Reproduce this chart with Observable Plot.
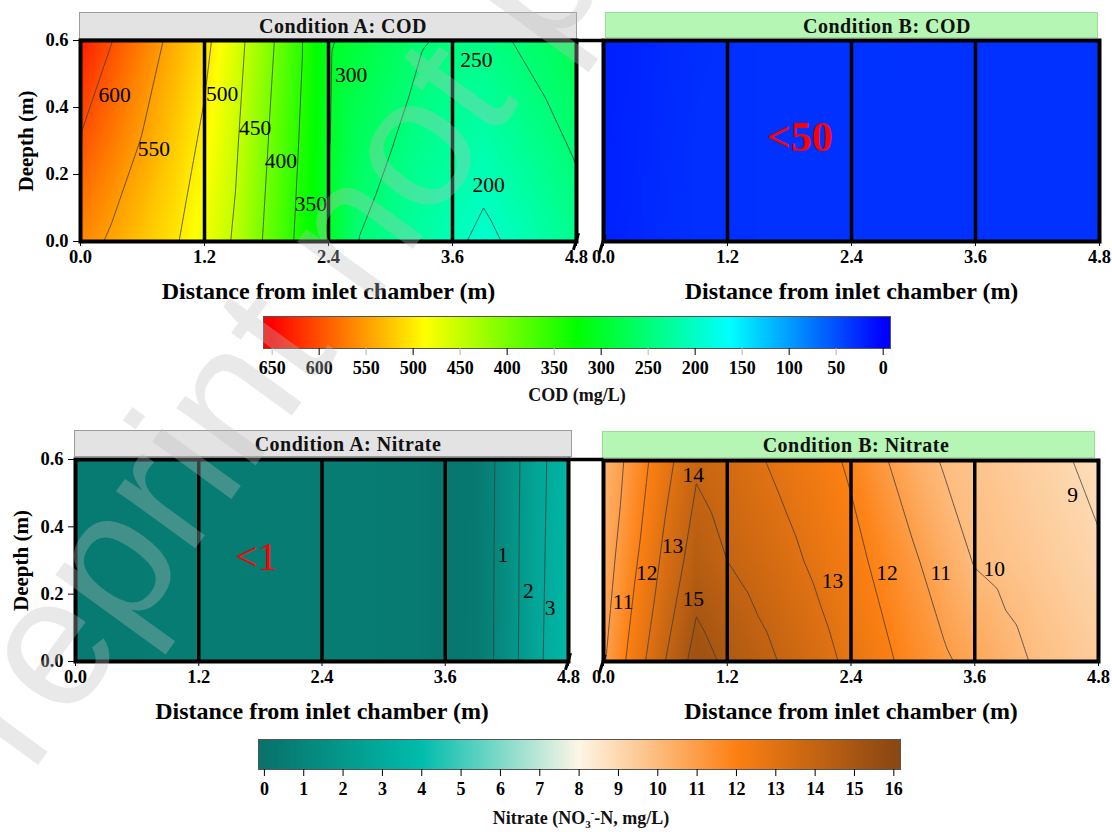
<!DOCTYPE html>
<html>
<head>
<meta charset="utf-8">
<script src="https://cdn.jsdelivr.net/npm/d3@7"></script>
<script src="https://cdn.jsdelivr.net/npm/@observablehq/plot@0.6"></script>
<style>
  body { margin: 0; background: #fff; }
  #fig { position: relative; width: 1112px; height: 832px; overflow: hidden; background: #fff;
         font-family: "Liberation Serif", "Times New Roman", serif; }
  .box { position: absolute; }
  .box svg { max-width: none; }
  .strip { position: absolute; box-sizing: border-box; }
  .strip.a { background: #e3e3e3; border: 1px solid #9c9c9c; }
  .strip.b { background: #b6f6b4; border: 1px solid #9bdc9b; }
  .title { position: absolute; width: 400px; text-align: center; font-weight: bold; font-size: 20px;
           letter-spacing: 0.5px; line-height: 26px; color: #111; }
  .cbtitle { position: absolute; width: 400px; text-align: center; font-weight: bold; font-size: 18px; color: #111; }
  .cbtitle sub { font-size: 11px; vertical-align: -4px; }
  .cbtitle sup { font-size: 11px; vertical-align: 8px; }
  #watermark { position: absolute; left: 0; top: 0; pointer-events: none; }
</style>
</head>
<body>
<div id="fig"></div>
<script>
// Sampling grid (distance from inlet chamber, m) x (depth, m)
const distance = [0, 0.3, 0.6, 0.9, 1.2, 1.5, 1.8, 2.1, 2.4, 2.7, 3.0, 3.3, 3.6, 3.9, 4.2, 4.5, 4.8];
const depth = [0, 0.3, 0.6];

// COD (mg/L), one row per depth
const codA = [
  [565, 545, 525, 505, 477, 445, 393, 344, 300, 249, 235, 221, 207, 192, 206, 220, 235],
  [598, 573, 548, 522, 493, 455, 403, 352, 302, 267, 252, 236, 226, 216, 228, 241, 255],
  [632, 601, 570, 540, 510, 466, 414, 359, 304, 285, 269, 252, 245, 241, 251, 262, 275]
];
const codB = [
  [21, 24, 28, 30, 30, 31, 31, 31, 31, 31, 31, 31, 31, 31, 31, 31, 31],
  [21, 23, 27, 30, 30, 31, 31, 31, 31, 31, 31, 31, 31, 31, 31, 31, 31],
  [21, 22, 26, 29, 30, 31, 31, 31, 32, 32, 31, 31, 31, 31, 31, 31, 31]
];

// Nitrate (NO3--N, mg/L), one row per depth
const nitrateA = [
  [0.4, 0.45, 0.45, 0.5, 0.5, 0.5, 0.5, 0.5, 0.5, 0.5, 0.45, 0.4, 0.2, 0.35, 1.5, 2.85, 3.7],
  [0.4, 0.45, 0.45, 0.5, 0.5, 0.5, 0.5, 0.5, 0.5, 0.5, 0.45, 0.4, 0.2, 0.33, 1.48, 2.8, 3.65],
  [0.4, 0.45, 0.45, 0.5, 0.5, 0.5, 0.5, 0.5, 0.5, 0.5, 0.45, 0.4, 0.2, 0.3, 1.45, 2.75, 3.6]
];
const nitrateB = [
  [10.9, 12.44, 14.0, 15.4, 14.82, 14.32, 13.81, 13.31, 12.78, 12.22, 11.68, 11.14, 10.69, 10.27, 9.91, 9.65, 9.4],
  [10.5, 11.86, 13.27, 14.5, 14.0, 13.61, 13.21, 12.77, 12.29, 11.76, 11.14, 10.5, 9.95, 9.74, 9.52, 9.31, 9.1],
  [10.2, 11.42, 12.67, 13.85, 13.47, 13.09, 12.70, 12.31, 11.86, 11.14, 10.44, 9.92, 9.70, 9.48, 9.26, 9.04, 8.8]
];

// Contour levels drawn as lines
const codLevels = [200, 250, 300, 350, 400, 450, 500, 550, 600];
const nitrateALevels = [1, 2, 3];
const nitrateBLevels = [9, 10, 11, 12, 13, 14, 15];

// Contour labels: [distance, depth, text]
const codALabels = [
  [0.33, 0.436, "600"], [0.71, 0.275, "550"], [1.37, 0.441, "500"], [1.69, 0.338, "450"],
  [1.94, 0.239, "400"], [2.23, 0.112, "350"], [2.62, 0.496, "300"], [3.83, 0.540, "250"],
  [3.95, 0.167, "200"]
];
const nitrateALabels = [[4.16, 0.315, "1"], [4.41, 0.21, "2"], [4.62, 0.158, "3"]];
const nitrateBLabels = [
  [0.19, 0.178, "11"], [0.42, 0.265, "12"], [0.67, 0.343, "13"], [0.87, 0.555, "14"],
  [0.87, 0.185, "15"], [2.22, 0.241, "13"], [2.75, 0.265, "12"], [3.27, 0.263, "11"],
  [3.79, 0.275, "10"], [4.55, 0.498, "9"]
];
// Values below detection shown as text
const codBNote = [[1.9, 0.31, "<50"]];
const nitrateANote = [[1.76, 0.31, "<1"]];

// Axis ticks
const distanceTicks = [0, 1.2, 2.4, 3.6, 4.8];
const depthTicks = [0, 0.2, 0.4, 0.6];
const chamberWalls = [1.2, 2.4, 3.6];
const codBarTicksMajor = [600, 500, 400, 300, 200, 100, 0];
const codBarTicksMinor = [650, 550, 450, 350, 250, 150, 50];
const nitrateBarTicks = [0, 1, 2, 3, 4, 5, 6, 7, 8, 9, 10, 11, 12, 13, 14, 15, 16];

// Colour maps
const codColor = {
  type: "linear", domain: [0, 162.5, 325, 487.5, 650],
  range: ["#0000ff", "#00ffff", "#00ff00", "#ffff00", "#ff0000"], interpolate: "rgb", clamp: true
};
const nitrateColor = {
  type: "linear", domain: [0, 4, 8, 12, 16],
  range: ["#08736b", "#00bdac", "#fdf6e6", "#fd8012", "#8b4812"], interpolate: "rgb", clamp: true
};

const serif = '"Liberation Serif", "Times New Roman", serif';
const fig = document.getElementById("fig");

function gridRows(values) {
  const rows = [];
  depth.forEach((d, j) => distance.forEach((x, i) => rows.push({x, y: d, v: values[j][i]})));
  return rows;
}
const asPoints = (list) => list.map(([x, y, t]) => ({x, y, t}));

function place(node, left, top) {
  const div = document.createElement("div");
  div.className = "box";
  div.style.left = left + "px";
  div.style.top = top + "px";
  div.appendChild(node);
  fig.appendChild(div);
}

function strip(cls, left, top, width, height, text, center) {
  const s = document.createElement("div");
  s.className = "strip " + cls;
  Object.assign(s.style, {left: left + "px", top: top + "px", width: width + "px", height: height + "px"});
  fig.appendChild(s);
  const t = document.createElement("div");
  t.className = "title";
  t.textContent = text;
  Object.assign(t.style, {left: (center - 200) + "px", top: (top + 0.5) + "px"});
  fig.appendChild(t);
}

function panel({values, color, levels, labels, note, noteStyle, yAxis, frameW, frameH, marginLeft, marginRight, breakLeft, breakRight}) {
  const rows = gridRows(values);
  return Plot.plot({
    width: marginLeft + frameW + marginRight,
    height: 5 + frameH + 65,
    marginLeft, marginRight, marginTop: 5, marginBottom: 65,
    x: {domain: [0, 4.8]},
    y: {domain: [0, 0.6], axis: yAxis ? undefined : null},
    color,
    style: {fontFamily: serif, fontWeight: "bold", fontSize: "18.5px", color: "#000", background: "transparent", overflow: "visible"},
    marks: [
      Plot.raster(rows, {x: "x", y: "y", fill: "v", interpolate: "barycentric"}),
      levels ? Plot.contour(rows, {x: "x", y: "y", value: "v", thresholds: levels, interpolate: "barycentric",
                                   fill: "none", stroke: "#3a3a3a", strokeWidth: 0.8}) : null,
      labels ? Plot.text(asPoints(labels), {x: "x", y: "y", text: "t", fontSize: 21.5, fontWeight: "normal", fill: "#000"}) : null,
      note ? Plot.text(asPoints(note), {x: "x", y: "y", text: "t", fill: "#ff0000", ...noteStyle}) : null,
      Plot.ruleX(chamberWalls, {stroke: "#000", strokeWidth: 3.5}),
      Plot.frame({stroke: "#000", strokeWidth: 4}),
      breakRight ? Plot.ruleY([0.6], {x1: 4.8, x2: breakRight, stroke: "#000", strokeWidth: 3.5}) : null,
      breakRight ? Plot.link([0], {x1: 4.77, y1: -0.025, x2: 4.82, y2: 0.025, stroke: "#000", strokeWidth: 3}) : null,
      breakLeft ? Plot.link([0], {x1: -0.04, y1: -0.035, x2: 0.015, y2: 0.02, stroke: "#000", strokeWidth: 3}) : null,
      Plot.axisX({ticks: distanceTicks, tickFormat: d3.format(".1f"), tickSize: 5, tickPadding: 3, label: null}),
      yAxis ? Plot.axisY({ticks: depthTicks, tickFormat: d3.format(".1f"), tickSize: 7, tickPadding: 5, label: null}) : null,
      Plot.text(["Distance from inlet chamber (m)"], {frameAnchor: "bottom", dy: 57, fontSize: 24, fontWeight: "bold", letterSpacing: 1.4}),
      yAxis ? Plot.text(["Deepth (m)"], {frameAnchor: "left", textAnchor: "middle", dx: -54, rotate: -90,
                                          fontSize: 21, fontWeight: "bold", letterSpacing: 0.6}) : null
    ]
  });
}

// Row 1: COD
strip("a", 79, 12, 498, 27, "Condition A: COD", 343);
strip("b", 605, 12, 493, 26, "Condition B: COD", 887);
place(panel({values: codA, color: codColor, levels: codLevels, labels: codALabels, yAxis: true,
             frameW: 496, frameH: 201, marginLeft: 80, marginRight: 30, breakRight: 5.06}), 0, 35);
place(panel({values: codB, color: codColor, note: codBNote, noteStyle: {fontSize: 42, fontWeight: "bold"},
             frameW: 496, frameH: 201, marginLeft: 20, marginRight: 13, breakLeft: true}), 583, 35);

// Row 2: Nitrate
strip("a", 74, 430, 498, 27, "Condition A: Nitrate", 348);
strip("b", 602, 431, 493, 27, "Condition B: Nitrate", 856);
place(panel({values: nitrateA, color: nitrateColor, levels: nitrateALevels, labels: nitrateALabels,
             note: nitrateANote, noteStyle: {fontSize: 40, fontWeight: "normal"}, yAxis: true,
             frameW: 493, frameH: 202, marginLeft: 75, marginRight: 35, breakRight: 5.145}), 0, 454);
place(panel({values: nitrateB, color: nitrateColor, levels: nitrateBLevels, labels: nitrateBLabels,
             frameW: 495, frameH: 201, marginLeft: 20, marginRight: 14, breakLeft: true}), 583, 455);

// Colour bars
function colorbar({lo, hi, reverse, color, width, barH, major, minor}) {
  return Plot.plot({
    width: width + 40, height: 5 + barH + 60,
    marginLeft: 20, marginRight: 20, marginTop: 5, marginBottom: 60,
    x: {domain: [lo, hi], reverse},
    y: {domain: [0, 1], axis: null},
    color,
    style: {fontFamily: serif, fontWeight: "bold", fontSize: "18px", color: "#000", background: "transparent", overflow: "visible"},
    marks: [
      Plot.raster({x1: lo, x2: hi, y1: 0, y2: 1, fill: (x, y) => x}),
      Plot.frame({stroke: "#555", strokeWidth: 1}),
      Plot.axisX(major, {tickSize: 7, tickPadding: 6, stroke: "#000", label: null}),
      minor ? Plot.axisX(minor, {tickSize: 7, tickPadding: 6, stroke: "#b5b5b5", label: null}) : null
    ]
  });
}
place(colorbar({lo: -7.8, hi: 659.2, reverse: true, color: codColor, width: 627, barH: 32,
                major: codBarTicksMajor, minor: codBarTicksMinor}), 243, 311);
place(colorbar({lo: -0.15, hi: 16.17, reverse: false, color: nitrateColor, width: 642, barH: 30,
                major: nitrateBarTicks}), 238, 734);

const codTitle = document.createElement("div");
codTitle.className = "cbtitle";
codTitle.textContent = "COD (mg/L)";
Object.assign(codTitle.style, {left: "377px", top: "385px"});
fig.appendChild(codTitle);

const no3Title = document.createElement("div");
no3Title.className = "cbtitle";
no3Title.innerHTML = "Nitrate (NO<sub>3</sub><sup>-</sup>-N, mg/L)";
Object.assign(no3Title.style, {left: "381px", top: "806px"});
fig.appendChild(no3Title);

// Faint diagonal preprint watermark over the whole figure
const ns = "http://www.w3.org/2000/svg";
const wm = document.createElementNS(ns, "svg");
wm.setAttribute("id", "watermark");
wm.setAttribute("width", 1112);
wm.setAttribute("height", 832);
const wmText = document.createElementNS(ns, "text");
wmText.textContent = "Preprint not peer reviewed";
wmText.setAttribute("transform", "translate(-42,875) rotate(-54)");
wmText.setAttribute("font-family", '"Liberation Sans", Arial, sans-serif');
wmText.setAttribute("font-size", 185);
wmText.setAttribute("fill", "#bbbbbb");
wmText.setAttribute("fill-opacity", 0.33);
wm.appendChild(wmText);
fig.appendChild(wm);
</script>
</body>
</html>
